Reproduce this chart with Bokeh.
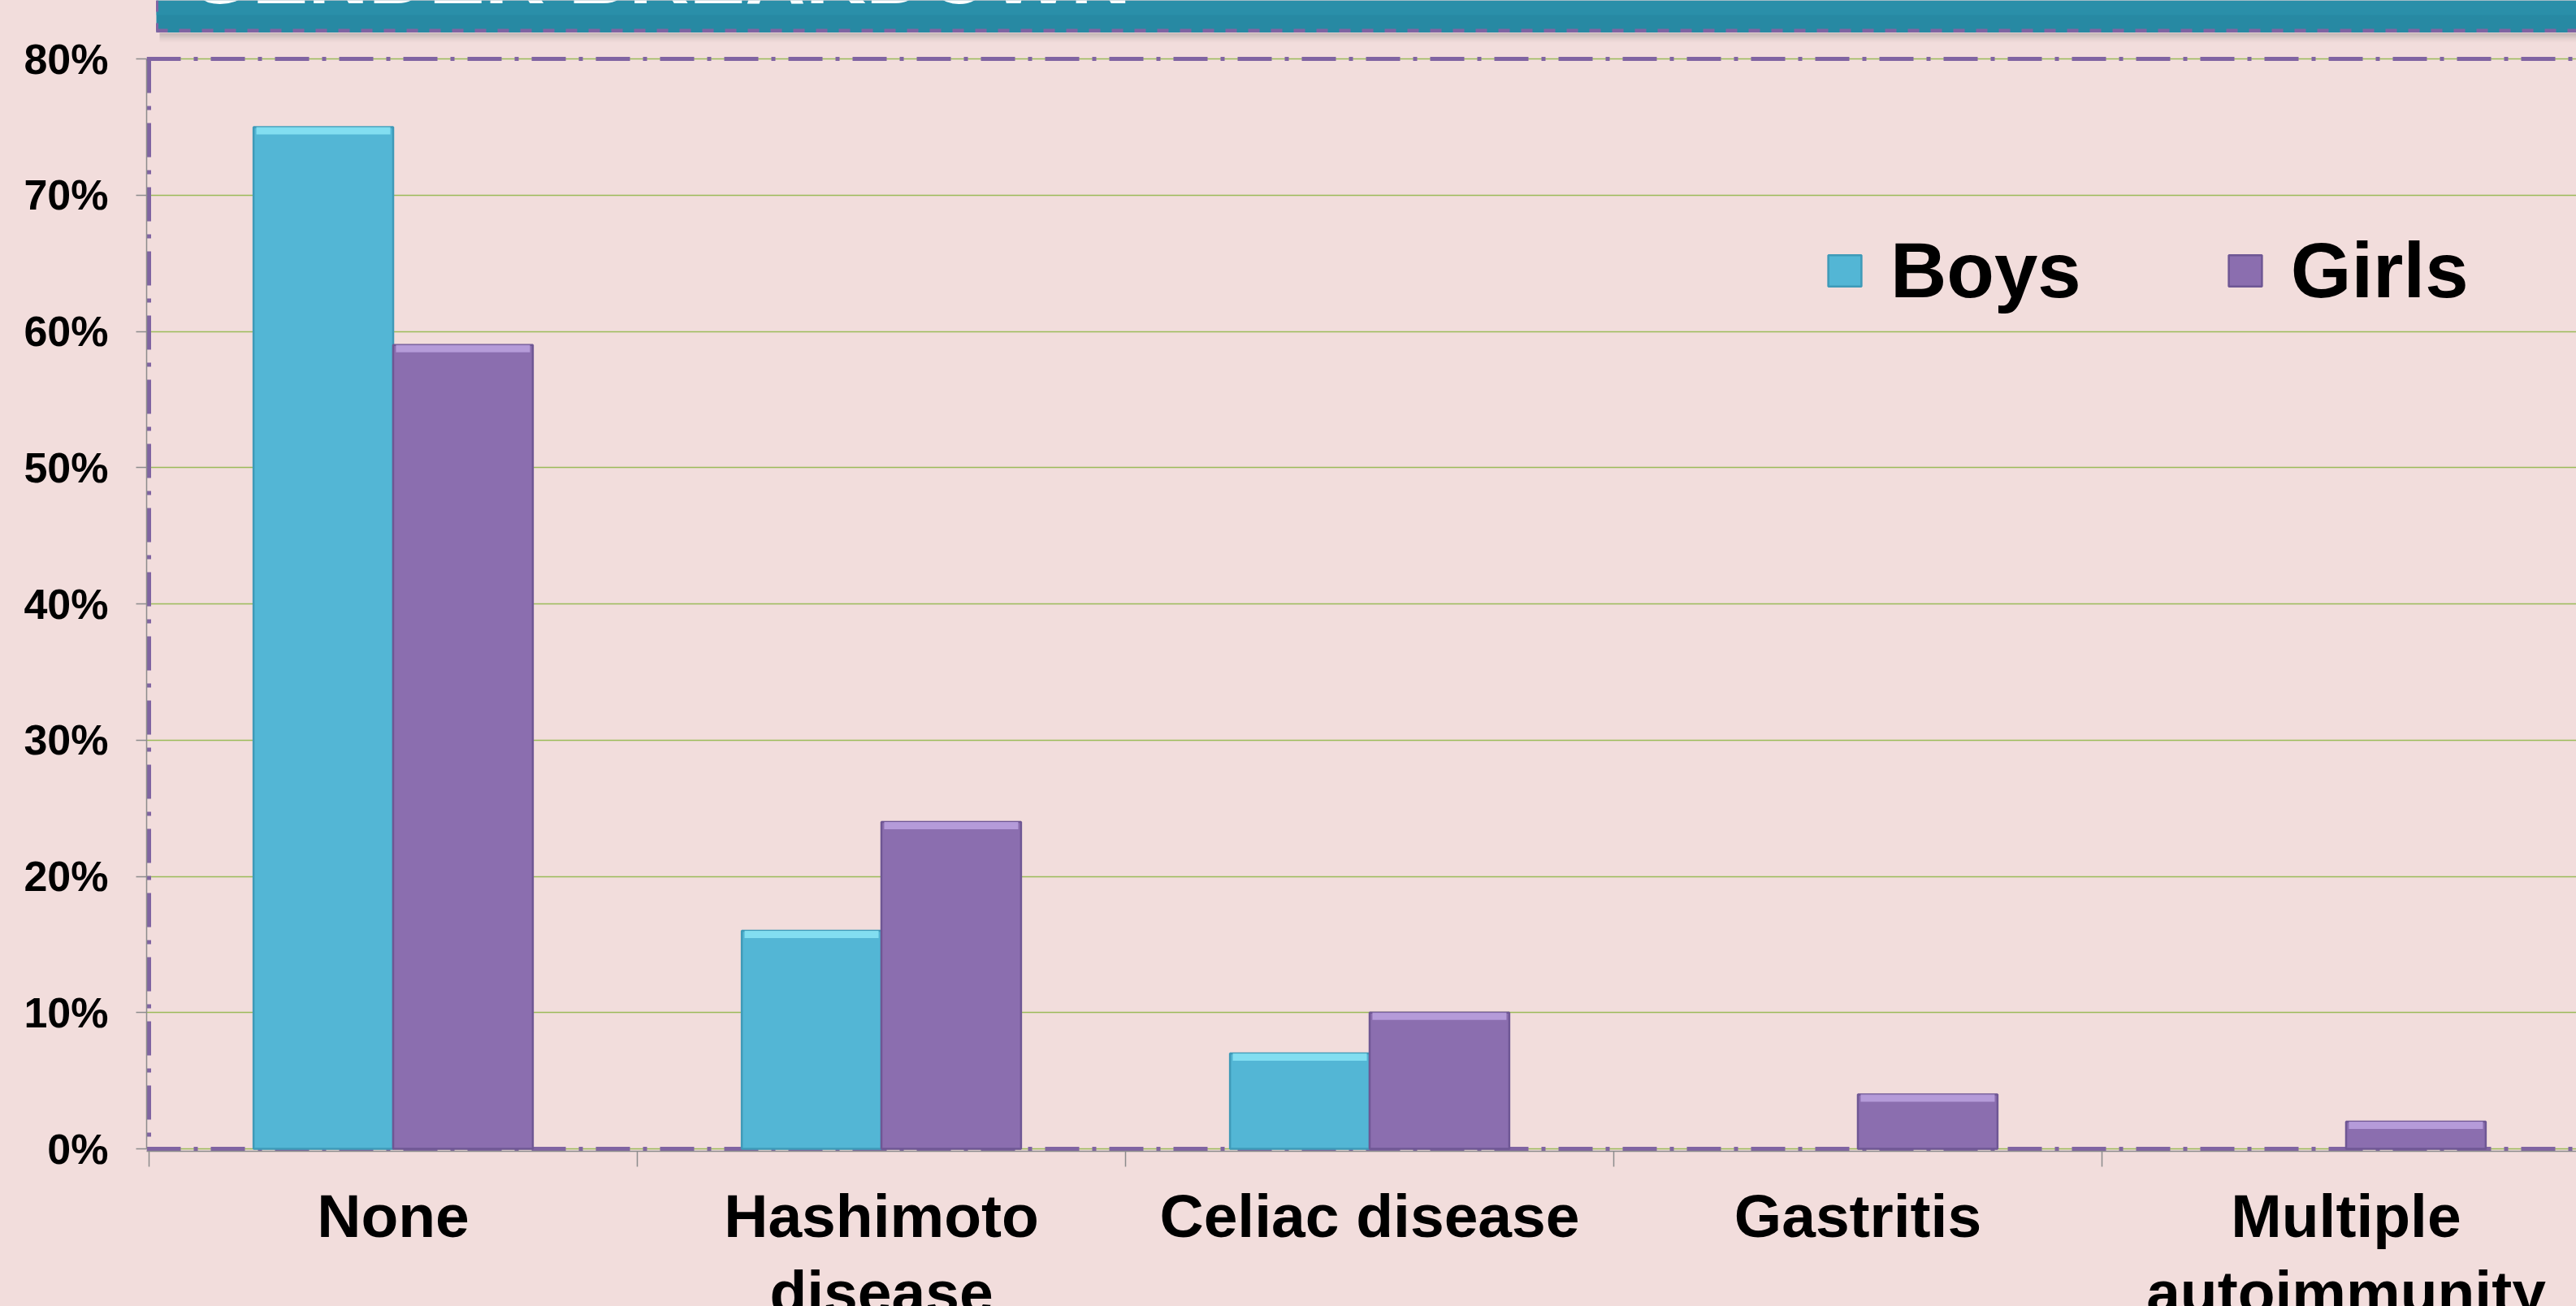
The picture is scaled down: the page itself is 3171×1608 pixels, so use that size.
import numpy as np
from bokeh.plotting import figure
from bokeh.models import (Range1d, FixedTicker, Span, Legend, LegendItem, ColumnDataSource)
from bokeh.layouts import column
from bokeh.transform import dodge
from bokeh.embed import file_html
from bokeh.resources import INLINE
from bokeh.core.properties import value

# ---------------- data ----------------
title_text = "GENDER BREAKDOWN"
categories = ["None", "Hashimoto\ndisease", "Celiac disease", "Gastritis", "Multiple\nautoimmunity"]
boys = [75, 16, 7, 0, 0]
girls = [59, 24, 10, 4, 2]
y_ticks = [0, 10, 20, 30, 40, 50, 60, 70, 80]
y_tick_labels = ["0%", "10%", "20%", "30%", "40%", "50%", "60%", "70%", "80%"]
series_names = ["Boys", "Girls"]

# ---------------- style ----------------
BG = "#F2DDDC"
BOYS_C = "#53B6D5"
GIRLS_C = "#8B6EAF"
BOYS_EDGE = "#3F9AB8"
GIRLS_EDGE = "#6F5794"
BOYS_CAP = "#8EE8F8"
GIRLS_CAP = "#BFA6E3"
PURPLE = "#8064A2"
GRID = "#9BBB59"
AXIS = "#8C8C8C"
TEAL = "#2789A3"
FONT = "Liberation Sans"
DASHDOT = "42 16 5 16"

W = 3171
H = 1608
BANNER_H = 40
MAIN_H = 1410
LABEL_H = H - BANNER_H - MAIN_H

PX_PER_CAT = 601.0      # horizontal pixels per category
PX_PER_PCT = 16.775     # vertical pixels per percentage point
PAD = 3                 # extra frame pixels so the dash-dot border is not clipped
FRAME_LEFT, FRAME_TOP, FRAME_BOTTOM = 183, 72, 1414
Y_MAX = 80
LEFT_EDGE = FRAME_LEFT - PAD   # common left frame edge of all stacked figures

# ---------------- banner (frame aligned with the chart; x in page pixels) ----------------
banner = figure(width=W, height=BANNER_H, x_range=Range1d(LEFT_EDGE, W), y_range=Range1d(BANNER_H, 0),
                toolbar_location=None, output_backend="svg",
                x_axis_location=None, y_axis_location=None,
                min_border=0, min_border_left=LEFT_EDGE, min_border_right=0,
                min_border_top=0, min_border_bottom=0)
banner.background_fill_color = BG
banner.border_fill_color = BG
banner.outline_line_color = None
banner.grid.visible = False
banner.quad(left=192, right=W, top=0, bottom=40, fill_color=TEAL, line_color=None)
banner.quad(left=192, right=W, top=0, bottom=18, fill_color="#2C91AB", fill_alpha=0.7, line_color=None)
banner.text(x=[230], y=[-90], text=[title_text], text_color="white", text_font=value(FONT),
            text_font_style="bold", text_font_size="103px", text_baseline="top")
banner.segment(x0=[192], y0=[37.5], x1=[W], y1=[37.5], line_color=PURPLE, line_width=5, line_dash="14 14")
banner.segment(x0=[193], y0=[0], x1=[193], y1=[38], line_color=PURPLE, line_width=3, line_dash="14 14")

# ---------------- main chart ----------------
n = len(categories)
x0 = -PAD / PX_PER_CAT
frame_w = W - LEFT_EDGE
y_top = Y_MAX + (FRAME_TOP - BANNER_H) / PX_PER_PCT   # frame reaches up to the banner
cap_h = 9 / PX_PER_PCT
src = ColumnDataSource(dict(x=np.arange(n) + 0.5, boys=boys, girls=girls, cat=categories,
                            boys_cap=[v - cap_h if v > 0 else 0 for v in boys],
                            girls_cap=[v - cap_h if v > 0 else 0 for v in girls],
                            boys_a=[1.0 if v > 0 else 0 for v in boys],
                            girls_a=[1.0 if v > 0 else 0 for v in girls],
                            boys_cap_a=[0.8 if v > 0 else 0 for v in boys],
                            girls_cap_a=[0.8 if v > 0 else 0 for v in girls]))

p = figure(width=W, height=MAIN_H,
           x_range=Range1d(x0, x0 + frame_w / PX_PER_CAT),
           y_range=Range1d(-PAD / PX_PER_PCT, y_top),
           toolbar_location=None, output_backend="svg",
           min_border_left=LEFT_EDGE, min_border_right=0, min_border_top=0,
           min_border_bottom=MAIN_H - (FRAME_BOTTOM + PAD - BANNER_H))
p.background_fill_color = BG
p.border_fill_color = BG
p.outline_line_color = None

# soft shadow below the banner
for i in range(12):
    p.quad(left=(196 - FRAME_LEFT) / PX_PER_CAT, right=x0 + frame_w / PX_PER_CAT,
           top=y_top - i / PX_PER_PCT, bottom=y_top - (i + 1) / PX_PER_PCT,
           fill_color="#6E6E6E", fill_alpha=0.40 * (1 - i / 12.0) ** 1.5, line_color=None)

# grid
p.xgrid.visible = False
p.ygrid.ticker = FixedTicker(ticks=y_ticks)
p.ygrid.grid_line_color = GRID
p.ygrid.grid_line_width = 1.5

# y axis
p.yaxis.ticker = FixedTicker(ticks=y_ticks)
p.yaxis.bounds = (0, Y_MAX)
p.yaxis.major_label_overrides = {t: l for t, l in zip(y_ticks, y_tick_labels)}
p.yaxis.axis_line_color = AXIS
p.yaxis.axis_line_width = 1.5
p.yaxis.major_tick_line_color = AXIS
p.yaxis.major_tick_line_width = 1.5
p.yaxis.major_tick_in = 0
p.yaxis.major_tick_out = 16 - PAD
p.yaxis.minor_tick_line_color = None
p.yaxis.major_label_standoff = 34
p.yaxis.major_label_text_font = FONT
p.yaxis.major_label_text_font_style = "bold"
p.yaxis.major_label_text_font_size = "52px"
p.yaxis.major_label_text_color = "black"

# x axis: ticks at category boundaries; labels drawn in the strip below
p.xaxis.ticker = FixedTicker(ticks=list(range(n + 1)))
p.xaxis.major_label_overrides = {i: "" for i in range(n + 1)}
p.xaxis.major_label_text_font_size = "1px"
p.xaxis.major_label_standoff = 0
p.xaxis.axis_line_color = AXIS
p.xaxis.axis_line_width = 1.5
p.xaxis.major_tick_line_color = AXIS
p.xaxis.major_tick_line_width = 1.5
p.xaxis.major_tick_in = 0
p.xaxis.major_tick_out = 22 - PAD
p.xaxis.minor_tick_line_color = None

# bottom dash-dot border under the bars
p.add_layout(Span(location=0, dimension="width", line_color=PURPLE, line_width=5,
                  line_dash=DASHDOT, level="underlay"))

bar_w = 0.286
rb = p.vbar(x=dodge("x", -bar_w / 2, range=p.x_range), top="boys", width=bar_w, source=src,
            fill_color=BOYS_C, line_color=BOYS_EDGE, line_width=2.5,
            fill_alpha="boys_a", line_alpha="boys_a")
rg = p.vbar(x=dodge("x", bar_w / 2, range=p.x_range), top="girls", width=bar_w, source=src,
            fill_color=GIRLS_C, line_color=GIRLS_EDGE, line_width=2.5,
            fill_alpha="girls_a", line_alpha="girls_a")
# bevel highlight at the top of each bar
p.vbar(x=dodge("x", -bar_w / 2, range=p.x_range), top="boys", bottom="boys_cap", width=bar_w * 0.96,
       source=src, fill_color=BOYS_CAP, fill_alpha="boys_cap_a", line_color=None)
p.vbar(x=dodge("x", bar_w / 2, range=p.x_range), top="girls", bottom="girls_cap", width=bar_w * 0.96,
       source=src, fill_color=GIRLS_CAP, fill_alpha="girls_cap_a", line_color=None)

# dash-dot frame (top and left)
p.add_layout(Span(location=Y_MAX, dimension="width", line_color=PURPLE, line_width=5, line_dash=DASHDOT))
p.segment(x0=[0], y0=[Y_MAX], x1=[0], y1=[0], line_color=PURPLE, line_width=5, line_dash=DASHDOT)

legend = Legend(items=[LegendItem(label=series_names[0], renderers=[rb]),
                       LegendItem(label=series_names[1], renderers=[rg])],
                location=(2245 - FRAME_LEFT + PAD, FRAME_BOTTOM + PAD - 388), orientation="horizontal",
                glyph_width=51, glyph_height=48, label_standoff=31, spacing=176,
                padding=0, margin=0, background_fill_alpha=0, border_line_color=None,
                label_text_font=FONT, label_text_font_style="bold",
                label_text_font_size="96px", label_text_color="black")
p.add_layout(legend)

# ---------------- category label strip ----------------
lab = figure(width=W, height=LABEL_H, x_range=p.x_range, y_range=Range1d(LABEL_H, 0),
             toolbar_location=None, output_backend="svg",
             x_axis_location=None, y_axis_location=None,
             min_border_left=LEFT_EDGE, min_border_right=0, min_border_top=0, min_border_bottom=0)
lab.background_fill_color = BG
lab.border_fill_color = BG
lab.outline_line_color = None
lab.grid.visible = False
lab.text(x="x", y=4, text="cat", source=src, text_align="center", text_baseline="top",
         text_font=value(FONT), text_font_style="bold", text_font_size="75px",
         text_line_height=1.12, text_color="black")

for f in (banner, p, lab):
    f.styles = {"background-color": BG}
layout = column(banner, p, lab, spacing=0, styles={"background-color": BG})
open("out.html", "w").write(file_html(layout, INLINE))
